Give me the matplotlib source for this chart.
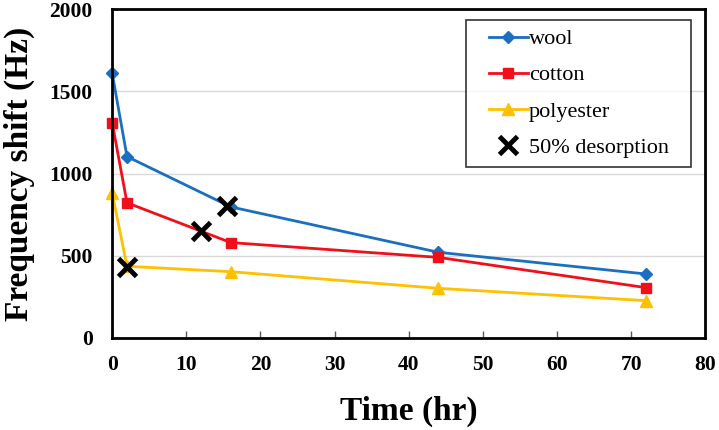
import matplotlib
matplotlib.use("Agg")
import matplotlib.pyplot as plt

time_h = [0, 2, 16, 44, 72]
wool = [1610, 1103, 797, 521, 389]
cotton = [1310, 822, 580, 490, 306]
polyester = [882, 436, 403, 302, 227]

# 50% desorption points
desorp_t = [2, 12, 15.5]
desorp_f = [434, 653, 802]

plt.rcParams['font.family'] = ['Liberation Serif', 'DejaVu Serif']

fig = plt.figure(figsize=(7.19, 4.30), dpi=100)
ax = fig.add_axes([0.156, 0.214, 0.825, 0.765])

ax.plot(time_h, wool, color='#1A6FC0', lw=2, marker='D', ms=6.5, label='wool', clip_on=False)
ax.plot(time_h, cotton, color='#F0101A', lw=2, marker='s', ms=7.5, label='cotton', clip_on=False)
ax.plot(time_h, polyester, color='#FFC000', lw=2, marker='^', ms=8, label='polyester', clip_on=False)
ax.plot(desorp_t, desorp_f, ls='none', marker='x', ms=13, mew=3.5, color='black',
        label='50% desorption', clip_on=False)

ax.set_xlim(0, 80)
ax.set_ylim(0, 2000)
ax.set_xticks(range(0, 81, 10))
ax.set_yticks(range(0, 2001, 500))
ax.grid(axis='y', color='#D9D9D9', lw=1)
ax.set_axisbelow(True)

for s in ax.spines.values():
    s.set_linewidth(2)
ax.tick_params(axis='x', direction='in', length=5, width=1, color='#595959', pad=12)
ax.tick_params(axis='y', length=0, pad=14)
for lab in ax.get_xticklabels() + ax.get_yticklabels():
    lab.set_fontsize(15.5)
    lab.set_fontweight('bold')

ax.set_xlabel('Time (hr)', fontsize=24, fontweight='bold', labelpad=15)
ax.set_ylabel('Frequency shift (Hz)', fontsize=24, fontweight='bold', labelpad=10)

leg = ax.legend(loc='upper right', bbox_to_anchor=(0.976, 0.967), borderaxespad=0,
                fontsize=16, frameon=True, fancybox=False, edgecolor='black',
                handlelength=1.75, borderpad=0.4, labelspacing=0.7, handletextpad=0.05)
leg.get_frame().set_linewidth(1.2)
# wider box than the entries, entries centred (extra side padding)
leg._legend_box.width = 207

fig.savefig('out.png', dpi=100)
